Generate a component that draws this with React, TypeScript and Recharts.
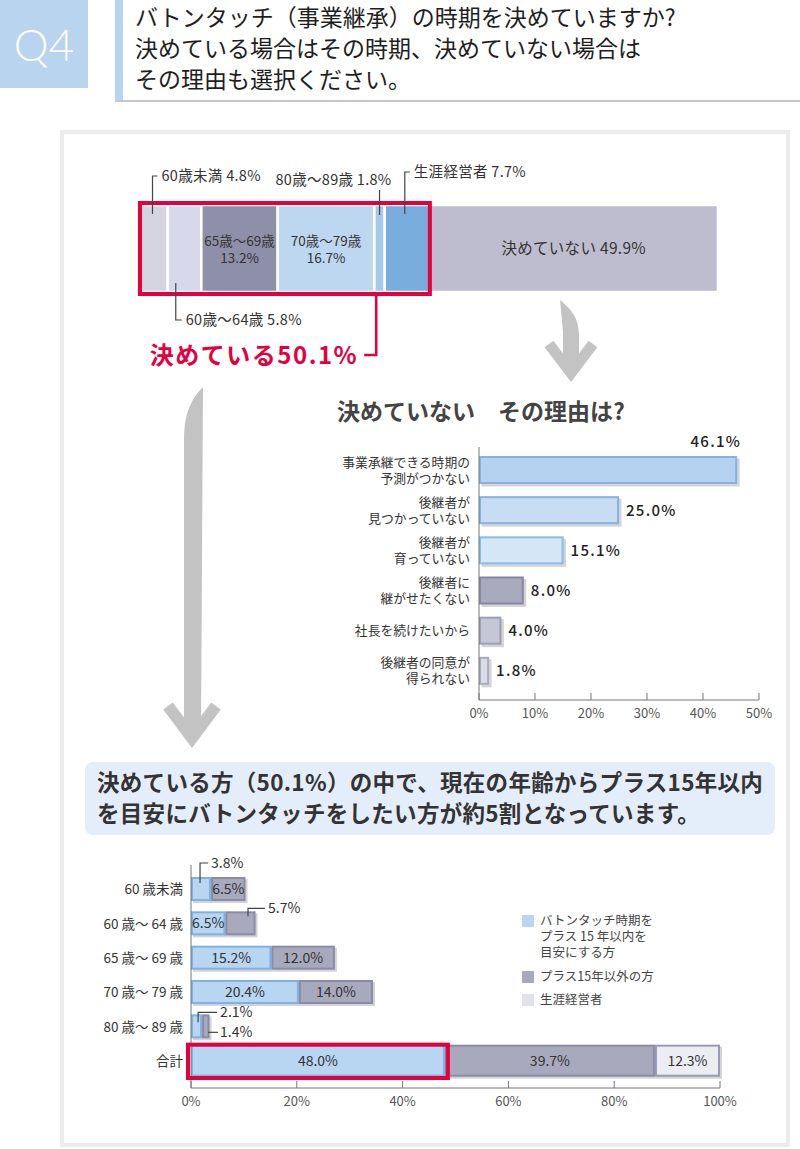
import React from 'react';
import { BarChart, Bar, XAxis, YAxis, ReferenceArea, LabelList, Legend } from 'recharts';

const JP = '"Noto Sans CJK JP", "Noto Sans", sans-serif';

// ---------- Header / text ----------
const questionNo = 'Q4';
const questionLines = [
  'バトンタッチ（事業継承）の時期を決めていますか?',
  '決めている場合はその時期、決めていない場合は',
  'その理由も選択ください。',
];
const reasonTitle = '決めていない　その理由は?';
const summaryLines = [
  '決めている方（50.1%）の中で、現在の年齢からプラス15年以内',
  'を目安にバトンタッチをしたい方が約5割となっています。',
];

// ---------- Top: overall distribution ----------
const overallCategory = ['全体'];
const overallKeys = ['u60', 'a60_64', 'a65_69', 'a70_79', 'a80_89', 'lifetime', 'undecided'];
const overallLabels = ['60歳未満', '60歳～64歳', '65歳～69歳', '70歳～79歳', '80歳～89歳', '生涯経営者', '決めていない'];
const overallValues = [4.8, 5.8, 13.2, 16.7, 1.8, 7.7, 49.9];
const decidedLabel = '決めている';
const decidedShare = 50.1;

// ---------- Middle: reasons ----------
const reasonLabels = [
  ['事業承継できる時期の', '予測がつかない'],
  ['後継者が', '見つかっていない'],
  ['後継者が', '育っていない'],
  ['後継者に', '継がせたくない'],
  ['社長を続けたいから'],
  ['後継者の同意が', '得られない'],
];
const reasonValues = [46.1, 25.0, 15.1, 8.0, 4.0, 1.8];
const reasonTicks = [0, 10, 20, 30, 40, 50];

// ---------- Bottom: by age ----------
const ageGroups = ['60 歳未満', '60 歳～ 64 歳', '65 歳～ 69 歳', '70 歳～ 79 歳', '80 歳～ 89 歳', '合計'];
const withinPlus15 = [3.8, 6.5, 15.2, 20.4, 2.1, 48.0];
const beyondPlus15 = [6.5, 5.7, 12.0, 14.0, 1.4, 39.7];
const lifetimeMgmt = [null, null, null, null, null, 12.3];
const bottomSeriesNames = ['バトンタッチ時期をプラス15年以内を目安にする方', 'プラス15年以外の方', '生涯経営者'];
const legendLines = [['バトンタッチ時期を', 'プラス 15 年以内を', '目安にする方'], ['プラス15年以外の方'], ['生涯経営者']];
const ageTicks = [0, 20, 40, 60, 80, 100];

// ---------- styles ----------
const RED = '#e4003f';
const overallColors = ['#d4d4e0', '#d8d8ec', '#8e90aa', '#bdd7f1', '#a5c8ec', '#79addd', '#bebdd0'];
const topModes = ['hookUp', 'hookDown', 'inside2', 'inside2', 'up', 'hookUp', 'inside1'];
const topRise = [29, 0, 0, 0, 15, 33, 0];
const reasonFills = ['#b4d2ef', '#c7ddf4', '#d5e6f7', '#a9aac0', '#c5c6d6', '#dddde9'];
const reasonStrokes = ['#84b3e2', '#84b3e2', '#8cbbe6', '#85879f', '#9d9fb4', '#a9aabd'];
const segFills = ['#b8d5f1', '#a9a9be', '#ececf3'];
const segStrokes = ['#7fb2e3', '#8a8ba5', '#9a9bb2'];
const legendColors = ['#b8d5f1', '#a9a9be', '#e1e1ea'];
const withinModes: any[] = [
  { type: 'up', fx: 0.45, start: 6, rise: 14, hook: 8 }, null, null, null,
  { type: 'up', fx: 0.64, start: 8, rise: 2, hook: 19 }, null,
];
const beyondModes: any[] = [
  null, { type: 'up', fx: 0.75, start: 5, rise: 3, hook: 17 }, null, null,
  { type: 'side', fx: 0.8, fy: 0.75, len: 10 }, null,
];
const lifetimeModes: any[] = [null, null, null, null, null, null];

const box = (p: any) => {
  const v = p.viewBox || {};
  return {
    x: Number(p.x ?? v.x),
    y: Number(p.y ?? v.y),
    w: Number(p.width ?? v.width),
    h: Number(p.height ?? v.height),
  };
};
const pct = (v: number) => `${v.toFixed(1)}%`;

// ---------- data tables ----------
const overallData = overallCategory.map((name) => {
  const row: any = { name };
  overallKeys.forEach((k, i) => (row[k] = overallValues[i]));
  return row;
});
const overallMax = overallValues.reduce((a, b) => a + b, 0);
const reasonData = reasonLabels.map((l, i) => ({ name: l.join('\n'), value: reasonValues[i] }));
const ageData = ageGroups.map((name, i) => ({
  name,
  within: withinPlus15[i],
  beyond: beyondPlus15[i],
  lifetime: lifetimeMgmt[i],
}));
const totalIndex = ageGroups.length - 1;

// ---------- top chart renderers ----------
const topLabel = (seg: number) => (p: any) => {
  const { x, y, w, h } = box(p);
  const name = overallLabels[seg];
  const v = pct(overallValues[seg]);
  const mode = topModes[seg];
  const txt: any = { fontFamily: JP, fontSize: 14.5, fill: '#333', letterSpacing: 0.3 };
  const ln: any = { stroke: '#444', strokeWidth: 1.2, fill: 'none' };
  if (mode === 'inside2') {
    return (
      <text x={x + w / 2} y={y + h / 2 - 3} textAnchor="middle" {...txt} fontSize={13.5} letterSpacing={0}>
        <tspan x={x + w / 2}>{name}</tspan>
        <tspan x={x + w / 2} dy={17}>{v}</tspan>
      </text>
    );
  }
  if (mode === 'inside1') {
    return <text x={x + w / 2} y={y + h / 2 + 5} textAnchor="middle" {...txt} fontSize={15.5}>{`${name} ${v}`}</text>;
  }
  if (mode === 'hookUp') {
    const lx = x + w * 0.45;
    const top = y - topRise[seg];
    return (
      <g>
        <path d={`M${lx},${y + 9} V${top} H${lx + 5}`} {...ln} />
        <text x={lx + 9} y={top + 5} {...txt}>{`${name} ${v}`}</text>
      </g>
    );
  }
  if (mode === 'hookDown') {
    const lx = x + 8;
    const bot = y + h + 28;
    return (
      <g>
        <path d={`M${lx},${y + h - 9} V${bot} H${lx + 6}`} {...ln} />
        <text x={lx + 10} y={bot + 5} {...txt}>{`${name} ${v}`}</text>
      </g>
    );
  }
  // 'up'
  const lx = x + w / 2;
  return (
    <g>
      <path d={`M${lx},${y + 10} V${y - topRise[seg]}`} {...ln} />
      <text x={lx + 12} y={y - 20} textAnchor="end" {...txt}>{`${name} ${v}`}</text>
    </g>
  );
};

const decidedCallout = (p: any) => {
  const v = p.viewBox || {};
  const lx = v.x + v.width * 0.815;
  const by = v.y + v.height;
  return (
    <g>
      <path d={`M${lx},${by} V${by + 61} H${lx - 12}`} stroke={RED} strokeWidth={2.5} fill="none" />
      <text x={lx - 18} y={by + 70} textAnchor="end" fontFamily={JP} fontWeight={700} fontSize={24} fill={RED} letterSpacing={1.5}>
        {`${decidedLabel}${decidedShare.toFixed(1)}%`}
      </text>
    </g>
  );
};

// ---------- middle chart renderers ----------
const ReasonTick = (p: any) => {
  const lines = String(p.payload.value).split('\n');
  const n = lines.length;
  return (
    <text x={p.x - 1} y={p.y + 4.5 - ((n - 1) / 2) * 16} textAnchor="end" fontFamily={JP} fontSize={12.8} fill="#333">
      {lines.map((l, i) => (
        <tspan key={i} x={p.x - 1} dy={i === 0 ? 0 : 16}>{l}</tspan>
      ))}
    </text>
  );
};
const ReasonShape = (p: any) => {
  const { x, y, width: w, height: h, index } = p;
  if (!(w > 0)) return null;
  return (
    <g>
      <rect x={x + 2.5} y={y + 2.5} width={w} height={h} fill="#d4d4d8" />
      <rect x={x + 1} y={y + 1} width={w - 2} height={h - 2} fill={reasonFills[index]} stroke={reasonStrokes[index]} strokeWidth={2} />
    </g>
  );
};
const reasonValueLabel = (p: any) => {
  const { x, y, w, h } = box(p);
  const i = p.index;
  const t = pct(reasonValues[i]);
  const common: any = { fontFamily: JP, fontSize: 15, fontWeight: 500, fill: '#222', letterSpacing: 1.3 };
  if (i === 0) return <text x={x + w + 4} y={y - 9} textAnchor="end" {...common}>{t}</text>;
  return <text x={x + w + 7} y={y + h / 2 + 5.5} {...common}>{t}</text>;
};
const xTick = (tickFmt: (v: number) => string) => (p: any) => (
  <g>
    <line x1={p.x} x2={p.x} y1={p.y - 7} y2={p.y} stroke="#777" strokeWidth={1} />
    <text x={p.x} y={p.y + 18} textAnchor="middle" fontFamily={JP} fontSize={13} fill="#555">
      {tickFmt(p.payload.value)}
    </text>
  </g>
);

// ---------- bottom chart renderers ----------
const AgeTick = (p: any) => (
  <text x={p.x} y={p.y + 5} textAnchor="end" fontFamily={JP} fontSize={13.5} fill="#333">{p.payload.value}</text>
);
const segShape = (s: number) => (p: any) => {
  let { x, y, width: w, height: h, index } = p;
  if (!(w > 0)) return null;
  if (index === totalIndex) {
    y -= 4;
    h += 8;
  }
  return (
    <g>
      <rect x={x + 2} y={y + 2} width={w} height={h} fill="#d2d2d8" />
      <rect x={x + 1} y={y + 1} width={w - 2} height={h - 2} fill={segFills[s]} stroke={segStrokes[s]} strokeWidth={2} />
    </g>
  );
};
const segLabel = (series: (number | null)[], modes: any[]) => (p: any) => {
  const i = p.index;
  const v = series[i];
  if (v == null) return null;
  let { x, y, w, h } = box(p);
  if (i === totalIndex) {
    y -= 4;
    h += 8;
  }
  const t = pct(v);
  const txt: any = { fontFamily: JP, fontSize: 14, fill: '#333' };
  const ln: any = { stroke: '#444', strokeWidth: 1.2, fill: 'none' };
  const m = modes[i];
  if (!m) return <text x={x + w / 2} y={y + h / 2 + 5} textAnchor="middle" {...txt}>{t}</text>;
  if (m.type === 'up') {
    const lx = x + w * m.fx;
    const top = y - m.rise;
    return (
      <g>
        <path d={`M${lx},${y + m.start} V${top} H${lx + m.hook}`} {...ln} />
        <text x={lx + m.hook + 3} y={top + 5} {...txt}>{t}</text>
      </g>
    );
  }
  const lx = x + w * m.fx;
  const ly = y + h * m.fy;
  return (
    <g>
      <path d={`M${lx},${ly} H${lx + m.len}`} {...ln} />
      <text x={lx + m.len + 2} y={ly + 5} {...txt}>{t}</text>
    </g>
  );
};
const totalFrame = (p: any) => {
  const v = p.viewBox || {};
  return <rect x={v.x - 3} y={v.y + 1} width={v.width + 6} height={v.height - 1} fill="none" stroke={RED} strokeWidth={4} />;
};
const LegendBox = () => (
  <div style={{ fontFamily: JP, fontSize: 12.5, color: '#444' }}>
    {legendLines.map((lines, i) => (
      <div key={i} title={bottomSeriesNames[i]} style={{ position: 'relative', paddingLeft: 18, lineHeight: '16px', marginBottom: 7.5 }}>
        <span style={{ position: 'absolute', left: 0, top: 3, width: 12, height: 12, background: legendColors[i] }} />
        {lines.map((l, j) => (
          <div key={j} style={{ whiteSpace: 'nowrap' }}>{l}</div>
        ))}
      </div>
    ))}
  </div>
);

const Arrows = () => (
  <svg width={800} height={1149} style={{ position: 'absolute', left: 0, top: 0, pointerEvents: 'none' }}>
    <g fill="#c3c3c3" stroke="none">
      <path d="M560,300 C575,312 579,322 579,336 L579,372 L563,372 L563,332 Z" />
      <path d="M203,387 L201,730 L184,730 L184,440 C184,415 190,400 203,387 Z" />
    </g>
    <g fill="none" stroke="#c3c3c3" strokeLinejoin="miter" strokeLinecap="butt" strokeMiterlimit={6}>
      <polyline points="549,344 571,373 593,344" strokeWidth={11} />
      <polyline points="168,706 192,738 216,706" strokeWidth={12} />
    </g>
  </svg>
);

export default function App() {
  return (
    <div style={{ position: 'absolute', left: 0, top: 0, width: 800, height: 1149, background: '#fff', fontFamily: JP, overflow: 'hidden' }}>
      {/* Header */}
      <div style={{ position: 'absolute', left: 0, top: 0, width: 88, height: 88, background: '#b8d4ef', color: '#fff', fontFamily: 'Lato, "Open Sans", sans-serif', fontWeight: 300, fontSize: 44, display: 'flex', alignItems: 'center', justifyContent: 'center' }}>
        {questionNo}
      </div>
      <div style={{ position: 'absolute', left: 115, top: 0, width: 8, height: 101, background: '#b8d4ef' }} />
      <div style={{ position: 'absolute', left: 115, top: 100, width: 685, height: 2, background: '#c6c6c6' }} />
      <div style={{ position: 'absolute', left: 135, top: 1, width: 660, fontSize: 23, lineHeight: '31px', color: '#1e1e1e', fontWeight: 400 }}>
        {questionLines.map((l, i) => (
          <div key={i} style={{ whiteSpace: 'nowrap' }}>{l}</div>
        ))}
      </div>

      {/* Card */}
      <div style={{ position: 'absolute', left: 60, top: 130, width: 730, height: 1017, border: '4px solid #ececec', boxSizing: 'border-box' }} />

      {/* Top overall bar */}
      <div style={{ position: 'absolute', left: 130, top: 160 }}>
        <BarChart width={600} height={210} data={overallData} layout="vertical" margin={{ top: 43, right: 12, bottom: 76, left: 10 }}>
          <XAxis type="number" domain={[0, overallMax]} hide />
          <YAxis type="category" dataKey="name" hide />
          {overallKeys.map((k, i) => (
            <Bar key={k} dataKey={k} name={overallLabels[i]} stackId="all" fill={overallColors[i]} stroke="#fff" strokeWidth={2.5} barSize={87} isAnimationActive={false}>
              <LabelList content={topLabel(i)} />
            </Bar>
          ))}
          <ReferenceArea x1={0} x2={decidedShare} stroke={RED} strokeWidth={4} fill="none" fillOpacity={0} ifOverflow="visible" zIndex={1500} label={decidedCallout} />
        </BarChart>
      </div>

      {/* Reasons title */}
      <div style={{ position: 'absolute', left: 337, top: 396, fontSize: 23, lineHeight: '28px', fontWeight: 700, color: '#444', whiteSpace: 'nowrap' }}>
        {reasonTitle}
      </div>

      {/* Reasons chart */}
      <div style={{ position: 'absolute', left: 320, top: 430 }}>
        <BarChart width={460} height={300} data={reasonData} layout="vertical" margin={{ top: 17, right: 21, bottom: 0, left: 0 }}>
          <XAxis type="number" domain={[0, 50]} ticks={reasonTicks} tickLine={false} tickSize={0} tickMargin={0} height={30} axisLine={{ stroke: '#777' }} tick={xTick((v) => `${v}%`)} interval={0} />
          <YAxis type="category" dataKey="name" width={159} tickLine={false} axisLine={{ stroke: '#777' }} tick={ReasonTick} padding={{ top: 3, bottom: 9 }} interval={0} />
          <Bar dataKey="value" barSize={28} shape={ReasonShape} isAnimationActive={false}>
            <LabelList content={reasonValueLabel} />
          </Bar>
        </BarChart>
      </div>

      {/* Summary banner */}
      <div style={{ position: 'absolute', left: 85, top: 762, width: 690, height: 73, background: '#e3eefa', borderRadius: 8, boxSizing: 'border-box', padding: '4px 0 0 12px', fontSize: 22.5, lineHeight: '31px', fontWeight: 700, color: '#333', letterSpacing: 0.3 }}>
        {summaryLines.map((l, i) => (
          <div key={i} style={{ whiteSpace: 'nowrap' }}>{l}</div>
        ))}
      </div>

      {/* Age chart */}
      <div style={{ position: 'absolute', left: 100, top: 850 }}>
        <BarChart width={640} height={280} data={ageData} layout="vertical" margin={{ top: 15, right: 20, bottom: 0, left: 0 }}>
          <XAxis type="number" domain={[0, 100]} ticks={ageTicks} tickLine={false} tickSize={0} tickMargin={0} height={42} axisLine={{ stroke: '#777' }} tick={xTick((v) => `${v}%`)} interval={0} />
          <YAxis type="category" dataKey="name" width={91} tickLine={false} axisLine={{ stroke: '#777' }} tick={AgeTick} padding={{ top: 7, bottom: 10 }} interval={0} />
          <Bar dataKey="within" name={bottomSeriesNames[0]} stackId="age" barSize={24} shape={segShape(0)} isAnimationActive={false}>
            <LabelList content={segLabel(withinPlus15, withinModes)} />
          </Bar>
          <Bar dataKey="beyond" name={bottomSeriesNames[1]} stackId="age" barSize={24} shape={segShape(1)} isAnimationActive={false}>
            <LabelList content={segLabel(beyondPlus15, beyondModes)} />
          </Bar>
          <Bar dataKey="lifetime" name={bottomSeriesNames[2]} stackId="age" barSize={24} shape={segShape(2)} isAnimationActive={false}>
            <LabelList content={segLabel(lifetimeMgmt, lifetimeModes)} />
          </Bar>
          <ReferenceArea x1={0} x2={withinPlus15[totalIndex]} y1={ageGroups[totalIndex]} y2={ageGroups[totalIndex]} stroke="none" fill="none" fillOpacity={0} ifOverflow="visible" zIndex={1500} label={totalFrame} />
          <Legend layout="vertical" align="center" verticalAlign="middle" content={LegendBox} wrapperStyle={{ left: 422, top: 62, width: 170 }} />
        </BarChart>
      </div>

      <Arrows />
    </div>
  );
}
